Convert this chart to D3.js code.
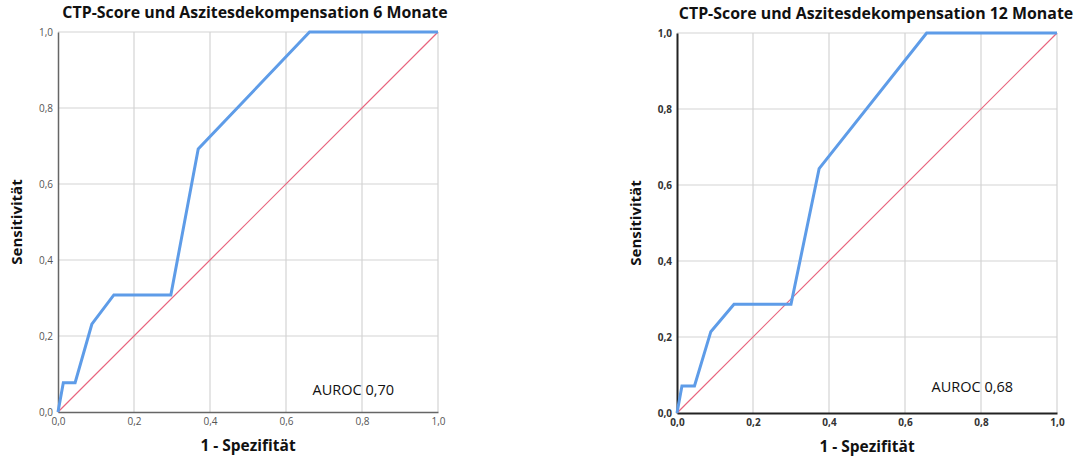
<!DOCTYPE html>
<html>
<head>
<meta charset="utf-8">
<script src="https://cdn.jsdelivr.net/npm/d3@7"></script>
<style>
  body { margin: 0; background: #fff; }
  svg { display: block; }
</style>
</head>
<body>
<div id="chart"></div>
<script>
// ROC values
const titles = ["CTP-Score und Aszitesdekompensation 6 Monate", "CTP-Score und Aszitesdekompensation 12 Monate"];
const fpr6  = [0, 0.014, 0.045, 0.089, 0.147, 0.297, 0.369, 0.662, 1];
const tpr6  = [0, 0.077, 0.077, 0.231, 0.308, 0.308, 0.692, 1, 1];
const fpr12 = [0, 0.013, 0.046, 0.089, 0.150, 0.300, 0.374, 0.657, 1];
const tpr12 = [0, 0.071, 0.071, 0.214, 0.286, 0.286, 0.643, 1, 1];
const aurocLabels = ["AUROC 0,70", "AUROC 0,68"];
const tickValues = [0, 0.2, 0.4, 0.6, 0.8, 1.0];

const W = 1081, H = 456;
const svg = d3.select('#chart').append('svg')
    .attr('width', W)
    .attr('height', H);

const fmt = d => d3.format('.1f')(d).replace('.', ',');

// panel placement and style differences
const panels = [
    { x0: 58, y0: 32, fpr: fpr6, tpr: tpr6, auroc: aurocLabels[0], aurocPos: [0.67, 0.045], boldTicks: false, axisColor: '#666', axisW: 1.5, titleDx: 197 },
    { x0: 677, y0: 33, fpr: fpr12, tpr: tpr12, auroc: aurocLabels[1], aurocPos: [0.67, 0.055], boldTicks: true, axisColor: '#222', axisW: 2, titleDx: 199 }
];
const size = 380;

panels.forEach((p, i) => {
    const x = d3.scaleLinear().domain([0, 1]).range([0, size]);
    const y = d3.scaleLinear().domain([0, 1]).range([size, 0]);

    const g = svg.append('g')
        .attr('transform', 'translate(' + p.x0 + ',' + p.y0 + ')');

    // grid
    const grid = g.append('g').attr('class', 'grid');
    grid.selectAll('line.v').data(tickValues.slice(1)).join('line')
        .attr('x1', d => x(d)).attr('x2', d => x(d))
        .attr('y1', 0).attr('y2', size)
        .attr('stroke', '#d4d4d4').attr('stroke-width', 1.2);
    grid.selectAll('line.h').data(tickValues.slice(1)).join('line')
        .attr('x1', 0).attr('x2', size)
        .attr('y1', d => y(d)).attr('y2', d => y(d))
        .attr('stroke', '#d4d4d4').attr('stroke-width', 1.2);

    // axes
    const xAxis = g.append('g')
        .attr('transform', 'translate(0,' + size + ')')
        .call(d3.axisBottom(x).tickValues(tickValues).tickFormat(fmt).tickSize(0).tickPadding(6));
    const yAxis = g.append('g')
        .call(d3.axisLeft(y).tickValues(tickValues).tickFormat(fmt).tickSize(0).tickPadding(5));
    [xAxis, yAxis].forEach(a => {
        a.select('.domain').attr('stroke', p.axisColor).attr('stroke-width', p.axisW);
        a.selectAll('text')
            .attr('font-family', 'Open Sans, sans-serif')
            .attr('font-size', 10)
            .attr('font-weight', p.boldTicks ? 700 : 400)
            .attr('fill', p.boldTicks ? '#333' : '#555');
    });

    // diagonal reference
    g.append('line')
        .attr('x1', x(0)).attr('y1', y(0))
        .attr('x2', x(1)).attr('y2', y(1))
        .attr('stroke', '#e8647e').attr('stroke-width', 1.2);

    // ROC curve
    const pts = p.fpr.map((f, k) => [f, p.tpr[k]]);
    g.append('path')
        .datum(pts)
        .attr('fill', 'none')
        .attr('stroke', '#5e9ce8')
        .attr('stroke-width', 3)
        .attr('stroke-linejoin', 'miter')
        .attr('d', d3.line().x(d => x(d[0])).y(d => y(d[1])));

    // AUROC note
    g.append('text')
        .attr('x', x(p.aurocPos[0]))
        .attr('y', y(p.aurocPos[1]))
        .attr('font-family', 'Open Sans, sans-serif')
        .attr('font-size', 14.5)
        .attr('fill', '#111')
        .text(p.auroc);

    // title
    g.append('text')
        .attr('x', p.titleDx)
        .attr('y', -14)
        .attr('text-anchor', 'middle')
        .attr('font-family', 'Open Sans, sans-serif')
        .attr('font-weight', 700)
        .attr('font-size', 15.9)
        .attr('fill', '#111')
        .text(titles[i]);

    // axis titles
    g.append('text')
        .attr('x', size / 2)
        .attr('y', size + 39)
        .attr('text-anchor', 'middle')
        .attr('font-family', 'Open Sans, sans-serif')
        .attr('font-weight', 700)
        .attr('font-size', 15.5)
        .attr('fill', '#111')
        .text('1 - Spezifität');
    g.append('text')
        .attr('transform', 'translate(' + (-36) + ',' + (size / 2) + ') rotate(-90)')
        .attr('text-anchor', 'middle')
        .attr('font-family', 'Open Sans, sans-serif')
        .attr('font-weight', 700)
        .attr('font-size', 15)
        .attr('fill', '#111')
        .text('Sensitivität');
});
</script>
</body>
</html>
